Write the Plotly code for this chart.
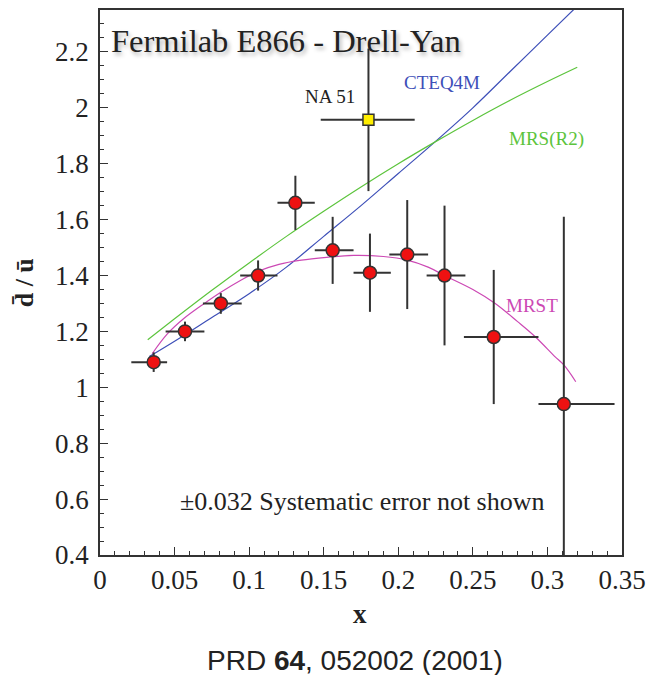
import plotly.graph_objects as go

# E866 data
x_e866 = [0.036, 0.057, 0.081, 0.106, 0.131, 0.156, 0.181, 0.206, 0.231, 0.264, 0.311]
y_e866 = [1.09, 1.20, 1.30, 1.40, 1.66, 1.49, 1.41, 1.475, 1.40, 1.18, 0.94]
xlo_e866 = [0.015, 0.013, 0.012, 0.012, 0.012, 0.012, 0.011, 0.012, 0.012, 0.020, 0.017]
xhi_e866 = [0.009, 0.013, 0.014, 0.013, 0.013, 0.014, 0.014, 0.014, 0.014, 0.030, 0.034]
yerr_e866 = [0.035, 0.035, 0.037, 0.054, 0.097, 0.12, 0.14, 0.195, 0.25, 0.24, 0.67]

# NA51 point
x_na51 = [0.18]
y_na51 = [1.957]
xlo_na51 = [0.032]
xhi_na51 = [0.031]
yerr_na51 = [0.255]

# Model curves
x_cteq = [0.033, 0.05, 0.075, 0.1, 0.125, 0.15, 0.175, 0.2, 0.225, 0.25, 0.275, 0.3, 0.325]
y_cteq = [1.11, 1.165, 1.25, 1.335, 1.43, 1.54, 1.65, 1.765, 1.88, 2.0, 2.13, 2.26, 2.39]

x_mrsr2 = [0.032, 0.05, 0.075, 0.1, 0.125, 0.15, 0.175, 0.2, 0.225, 0.25, 0.275, 0.3, 0.32]
y_mrsr2 = [1.17, 1.245, 1.347, 1.445, 1.54, 1.63, 1.717, 1.80, 1.879, 1.955, 2.027, 2.094, 2.145]

x_mrst = [0.035, 0.045, 0.056, 0.07, 0.081, 0.095, 0.106, 0.12, 0.135, 0.152, 0.17, 0.19,
          0.206, 0.22, 0.231, 0.25, 0.265, 0.28, 0.292, 0.305, 0.311, 0.319]
y_mrst = [1.12, 1.19, 1.245, 1.30, 1.34, 1.385, 1.415, 1.44, 1.455, 1.465, 1.472, 1.468,
          1.455, 1.43, 1.40, 1.35, 1.30, 1.235, 1.18, 1.11, 1.08, 1.02]

SERIF = "Liberation Serif"
BLUE = "#3d4fb8"
GREEN = "#5cc43c"
MAGENTA = "#cc48b4"

fig = go.Figure()
fig.add_trace(go.Scatter(x=x_cteq, y=y_cteq, mode="lines", line=dict(color=BLUE, width=1.2, shape="spline"), showlegend=False))
fig.add_trace(go.Scatter(x=x_mrsr2, y=y_mrsr2, mode="lines", line=dict(color=GREEN, width=1.2, shape="spline"), showlegend=False))
fig.add_trace(go.Scatter(x=x_mrst, y=y_mrst, mode="lines", line=dict(color=MAGENTA, width=1.2, shape="spline"), showlegend=False))

fig.add_trace(go.Scatter(
    x=x_na51, y=y_na51, mode="markers",
    marker=dict(symbol="square", size=11, color="#ffee00", line=dict(color="#333", width=1.5)),
    error_x=dict(type="data", array=xhi_na51, arrayminus=xlo_na51, color="#333", thickness=2, width=0),
    error_y=dict(type="data", array=yerr_na51, color="#333", thickness=2, width=0),
    showlegend=False))

fig.add_trace(go.Scatter(
    x=x_e866, y=y_e866, mode="markers",
    marker=dict(symbol="circle", size=13, color="#ee1111", line=dict(color="#333", width=1.5)),
    error_x=dict(type="data", array=xhi_e866, arrayminus=xlo_e866, color="#333", thickness=2, width=0),
    error_y=dict(type="data", array=yerr_e866, color="#333", thickness=2, width=0),
    showlegend=False))

tickfont = dict(family=SERIF, size=27, color="#222")

fig.update_xaxes(range=[0, 0.35], dtick=0.05, tick0=0, ticks="inside", ticklen=8, tickwidth=1.2,
                 tickcolor="#333", showline=True, linecolor="#333", linewidth=1.5, mirror=True,
                 showgrid=False, zeroline=False, tickfont=tickfont,
                 minor=dict(ticks="inside", dtick=0.01, ticklen=4, tickcolor="#333", showgrid=False))
fig.update_yaxes(range=[0.4, 2.35], dtick=0.2, tick0=0, ticks="inside", ticklen=8, tickwidth=1.2,
                 tickcolor="#333", showline=True, linecolor="#333", linewidth=1.5, mirror=True,
                 showgrid=False, zeroline=False, tickfont=tickfont, ticklabelstandoff=4,
                 minor=dict(ticks="inside", dtick=0.05, ticklen=4, tickcolor="#333", showgrid=False))

ann = []
ann.append(dict(x=0.006, y=2.24, xref="x", yref="y", text="Fermilab E866 - Drell-Yan", showarrow=False,
                xanchor="left", yanchor="middle",
                font=dict(family=SERIF, size=32.5, color="#222", shadow="2px 3px 4px rgba(0,0,0,0.3)")))
ann.append(dict(x=0.154, y=2.04, xref="x", yref="y", text="NA 51", showarrow=False,
                font=dict(family=SERIF, size=19, color="#222")))
ann.append(dict(x=0.229, y=2.09, xref="x", yref="y", text="CTEQ4M", showarrow=False,
                font=dict(family=SERIF, size=19, color=BLUE)))
ann.append(dict(x=0.2995, y=1.89, xref="x", yref="y", text="MRS(R2)", showarrow=False,
                font=dict(family=SERIF, size=19, color=GREEN)))
ann.append(dict(x=0.2896, y=1.293, xref="x", yref="y", text="MRST", showarrow=False,
                font=dict(family=SERIF, size=19, color=MAGENTA)))
ann.append(dict(x=0.176, y=0.59, xref="x", yref="y", text="±0.032 Systematic error not shown", showarrow=False,
                font=dict(family=SERIF, size=26, color="#222")))
ann.append(dict(x=0.174, y=-0.108, xref="x", yref="paper", text="<b>x</b>", showarrow=False,
                xanchor="center", yanchor="middle",
                font=dict(family=SERIF, size=27, color="#222")))
ann.append(dict(x=-0.144, y=0.50, xref="paper", yref="paper", text="<b>d̄ / ū</b>", showarrow=False,
                xanchor="center", yanchor="middle",
                textangle=-90, font=dict(family=SERIF, size=26, color="#222")))
ann.append(dict(x=0.171, y=-0.193, xref="x", yref="paper", text="PRD <b>64</b>, 052002 (2001)", showarrow=False,
                xanchor="center", yanchor="middle",
                font=dict(family="Liberation Sans", size=28, color="#222")))

fig.update_layout(width=654, height=675, margin=dict(l=100, r=26, t=8, b=120),
                  plot_bgcolor="white", paper_bgcolor="white", annotations=ann)

fig.write_html("out.html")
